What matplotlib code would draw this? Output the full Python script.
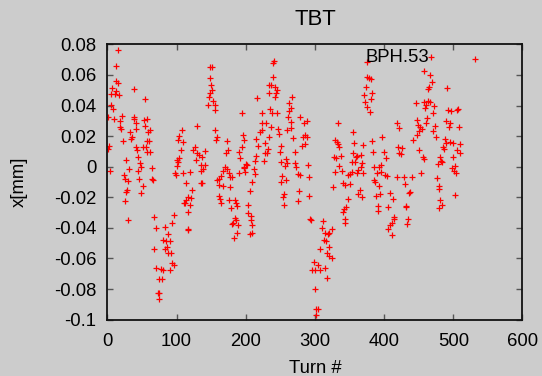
import matplotlib
matplotlib.use("Agg")
import matplotlib.pyplot as plt

# turn number and horizontal position [mm]
turns = [
    15, 12, 13, 16, 7, 38, 12, 6, 11, 17, 55, 5, 8, 1, 10, 21, 38, 39, 19, 53,
    58, 42, 54, 18, 20, 61, 59, 33, 42, 35, 34, 23, 58, 60, 2, 41, 1, 52, 56, 43,
    57, 62, 44, 47, 27, 48, 64, 45, 4, 31, 24, 25, 30, 65, 66, 46, 51, 28, 27, 49,
    25, 30, 67, 68,
    130, 108, 104, 102, 109, 106, 126, 124, 141, 130, 133, 104, 101, 102, 137, 128,
    135, 141, 139, 100, 98, 99, 135, 110, 119, 113, 137, 135, 122, 116, 114, 121,
    112, 111, 120, 117, 97, 93, 83, 70, 116, 117, 88, 81, 85, 91, 86, 84, 88, 92,
    94, 96, 90, 70, 78, 80, 74, 79, 75, 73, 75,
    149, 152, 148, 150, 151, 148, 147, 153, 155, 145, 156, 216, 195, 155, 159, 157,
    196, 197, 215, 173, 218, 194, 175, 171, 191, 215, 192, 213, 200, 198, 202, 197,
    170, 173, 167, 176, 212, 191, 199, 164, 178, 180, 213, 161, 159, 162, 167, 178,
    209, 206, 161, 163, 164, 176, 185, 186, 188, 179, 204, 203, 207, 208, 209, 184,
    186, 182, 180, 189, 187, 183, 206, 209,
    241, 239, 240, 234, 237, 242, 233, 244, 245, 243, 267, 262, 265, 263, 235, 238,
    245, 223, 279, 261, 289, 265, 229, 223, 284, 237, 247, 259, 266, 224, 221, 248,
    286, 283, 269, 233, 288, 281, 286, 228, 232, 251, 231, 228, 249, 271, 226, 258,
    251, 259, 257, 271, 273, 275, 278, 290, 253, 258, 251, 292, 277, 255, 254, 276,
    256, 292, 293, 294,
    333, 355, 329, 332, 334, 335, 357, 370, 327, 330, 337, 335, 329, 339, 355, 359,
    361, 366, 353, 358, 368, 367, 370, 348, 351, 353, 361, 362, 340, 343, 351, 326,
    365, 363, 368, 348, 345, 342, 340, 343, 344, 311, 325, 321, 310, 315, 319, 313,
    316, 308, 320, 317, 321, 324, 298, 305, 296, 300, 307, 314, 318, 300, 302, 304,
    301,
    376, 375, 378, 381, 374, 383, 371, 381, 373, 375, 380, 419, 421, 442, 383, 397,
    420, 426, 422, 425, 384, 400, 403, 395, 392, 385, 390, 396, 402, 404, 418, 429,
    440, 386, 387, 393, 430, 438, 436, 394, 408, 413, 389, 391, 391, 405, 431, 432,
    414, 415, 411, 409, 406, 434, 433, 412,
    468, 457, 467, 469, 465, 463, 491, 446, 458, 464, 466, 472, 459, 460, 470, 493,
    496, 507, 506, 462, 461, 449, 447, 452, 450, 455, 448, 473, 471, 475, 490, 495,
    494, 508, 488, 489, 495, 485, 486, 499, 510, 505, 509, 451, 456, 457, 481, 482,
    484, 478, 500, 502, 498, 501, 504, 454, 477, 479, 480, 481, 483, 480, 503, 532,
]

x_mm = [
    0.0763, 0.0659, 0.0563, 0.0550, 0.0517, 0.0510, 0.0497, 0.0475, 0.0475, 0.0466,
    0.0445, 0.0403, 0.0379, 0.0327, 0.0312, 0.0334, 0.0327, 0.0312, 0.0301, 0.0305,
    0.0314, 0.0284, 0.0266, 0.0257, 0.0248, 0.0240, 0.0229, 0.0229, 0.0244, 0.0196,
    0.0179, 0.0170, 0.0166, 0.0170, 0.0135, 0.0126, 0.0113, 0.0131, 0.0126, 0.0109,
    0.0096, 0.0096, 0.0065, 0.0022, 0.0044, -0.0004, -0.0009, -0.0026, -0.0028, -0.0017,
    -0.0054, -0.0083, -0.0096, -0.0078, -0.0087, -0.0078, -0.0126, -0.0153, -0.0164, -0.0170,
    -0.0222, -0.0349, -0.0327, -0.0541,
    0.0266, 0.0240, 0.0201, 0.0174, 0.0161, 0.0109, 0.0131, 0.0109, 0.0100, 0.0087,
    0.0074, 0.0055, 0.0044, 0.0031, 0.0065, 0.0044, 0.0011, 0.0011, -0.0017, 0.0004,
    -0.0039, -0.0052, -0.0026, -0.0039, -0.0035, -0.0105, -0.0105, -0.0109, -0.0153, -0.0196,
    -0.0218, -0.0205, -0.0235, -0.0240, -0.0248, -0.0297, -0.0314, -0.0371, -0.0392, -0.0403,
    -0.0414, -0.0405, -0.0440, -0.0479, -0.0484, -0.0488, -0.0523, -0.0541, -0.0567, -0.0567,
    -0.0628, -0.0645, -0.0676, -0.0665, -0.0671, -0.0676, -0.0737, -0.0737, -0.0828, -0.0824,
    -0.0863,
    0.0650, 0.0650, 0.0577, 0.0534, 0.0501, 0.0484, 0.0458, 0.0432, 0.0403, 0.0403,
    0.0371, 0.0447, 0.0353, 0.0240, 0.0196, 0.0174, 0.0207, 0.0174, 0.0179, 0.0170,
    0.0135, 0.0131, 0.0109, 0.0087, 0.0098, 0.0070, 0.0057, 0.0039, 0.0017, 0.0000,
    0.0009, -0.0011, -0.0004, -0.0017, -0.0026, -0.0039, -0.0017, -0.0039, -0.0033, -0.0061,
    -0.0065, -0.0065, -0.0048, -0.0083, -0.0087, -0.0118, -0.0126, -0.0131, -0.0098, -0.0157,
    -0.0192, -0.0209, -0.0240, -0.0218, -0.0218, -0.0235, -0.0257, -0.0273, -0.0251, -0.0301,
    -0.0323, -0.0349, -0.0384, -0.0338, -0.0349, -0.0371, -0.0375, -0.0384, -0.0436, -0.0466,
    -0.0440, -0.0436,
    0.0693, 0.0680, 0.0584, 0.0534, 0.0534, 0.0523, 0.0480, 0.0480, 0.0501, 0.0454,
    0.0454, 0.0414, 0.0381, 0.0366, 0.0375, 0.0353, 0.0349, 0.0353, 0.0323, 0.0323,
    0.0301, 0.0295, 0.0284, 0.0288, 0.0283, 0.0262, 0.0244, 0.0240, 0.0251, 0.0240,
    0.0229, 0.0211, 0.0207, 0.0196, 0.0190, 0.0192, 0.0196, 0.0135, 0.0148, 0.0153,
    0.0113, 0.0135, 0.0092, 0.0087, 0.0098, 0.0098, 0.0039, 0.0048, 0.0033, 0.0022,
    0.0004, 0.0022, 0.0000, -0.0048, -0.0054, 0.0011, -0.0061, -0.0087, -0.0098, -0.0070,
    -0.0157, -0.0179, -0.0196, -0.0222, -0.0253, -0.0192, -0.0344, -0.0349,
    0.0288, 0.0229, 0.0174, 0.0163, 0.0148, 0.0126, 0.0153, 0.0142, 0.0061, 0.0054,
    0.0070, 0.0004, -0.0033, -0.0026, 0.0092, 0.0065, 0.0070, 0.0076, 0.0033, 0.0033,
    0.0026, 0.0000, -0.0039, -0.0054, -0.0048, -0.0033, -0.0044, -0.0022, -0.0105, -0.0122,
    -0.0113, -0.0131, -0.0153, -0.0179, -0.0201, -0.0214, -0.0262, -0.0279, -0.0294, -0.0344,
    -0.0366, -0.0355, -0.0410, -0.0432, -0.0403, -0.0436, -0.0440, -0.0480, -0.0488, -0.0541,
    -0.0523, -0.0562, -0.0584, -0.0599, -0.0621, -0.0645, -0.0676, -0.0676, -0.0676, -0.0663,
    -0.0728, -0.0798, -0.0929, -0.0933, -0.0972,
    0.0687, 0.0589, 0.0577, 0.0571, 0.0523, 0.0484, 0.0469, 0.0440, 0.0425, 0.0392,
    0.0360, 0.0288, 0.0251, 0.0174, 0.0170, 0.0192, 0.0126, 0.0120, 0.0087, 0.0081,
    0.0098, 0.0098, 0.0054, 0.0011, 0.0000, 0.0000, -0.0039, -0.0033, -0.0054, -0.0061,
    -0.0065, -0.0065, -0.0065, -0.0087, -0.0100, -0.0126, -0.0113, -0.0163, -0.0174, -0.0179,
    -0.0170, -0.0214, -0.0192, -0.0257, -0.0288, -0.0266, -0.0257, -0.0266, -0.0327, -0.0340,
    -0.0366, -0.0382, -0.0410, -0.0344, -0.0375, -0.0445,
    0.0715, 0.0628, 0.0599, 0.0556, 0.0519, 0.0510, 0.0512, 0.0419, 0.0423, 0.0432,
    0.0423, 0.0397, 0.0381, 0.0403, 0.0349, 0.0371, 0.0364, 0.0375, 0.0371, 0.0316,
    0.0288, 0.0273, 0.0305, 0.0257, 0.0235, 0.0244, 0.0207, 0.0266, 0.0235, 0.0196,
    0.0298, 0.0288, 0.0257, 0.0262, 0.0179, 0.0153, 0.0163, 0.0131, 0.0113, 0.0157,
    0.0148, 0.0109, 0.0087, 0.0109, 0.0061, 0.0048, 0.0065, 0.0039, 0.0033, 0.0017,
    0.0061, 0.0004, -0.0011, -0.0026, -0.0044, -0.0039, -0.0074, -0.0126, -0.0148, -0.0218,
    -0.0251, -0.0273, -0.0185, 0.0707,
]

xticks = [0, 100, 200, 300, 400, 500, 600]
yticks = [-0.1, -0.08, -0.06, -0.04, -0.02, 0, 0.02, 0.04, 0.06, 0.08]
ytick_labels = ["-0.1", "-0.08", "-0.06", "-0.04", "-0.02", "0", "0.02", "0.04", "0.06", "0.08"]

bg = "#cccccc"
plt.rcParams["font.family"] = ["Liberation Sans", "DejaVu Sans"]
plt.rcParams["font.size"] = 13.3

fig = plt.figure(figsize=(5.42, 3.76), dpi=100, facecolor=bg)
ax = fig.add_axes([0.198, 0.150, 0.766, 0.732], facecolor=bg)

ax.plot(turns, x_mm, linestyle="none", marker="+", color="red", ms=5, mew=0.9)

ax.set_xlim(0, 600)
ax.set_ylim(-0.1, 0.08)
ax.set_xticks(xticks)
ax.set_xticklabels([str(t) for t in xticks])
ax.set_yticks(yticks)
ax.set_yticklabels(ytick_labels)
ax.tick_params(direction="in", length=4.5, width=1, color="#555555",
               top=True, right=True, pad=8)
ax.tick_params(axis="x", pad=10)
for s in ax.spines.values():
    s.set_linewidth(1.3)
    s.set_color("#111111")

ax.set_title("TBT", pad=14)
ax.set_xlabel("Turn #", labelpad=7)
ax.set_ylabel("x[mm]", labelpad=19)
ax.text(0.775, 0.951, "BPH.53", transform=ax.transAxes, ha="right", va="center")

fig.savefig("out.png", dpi=100, facecolor=bg)
